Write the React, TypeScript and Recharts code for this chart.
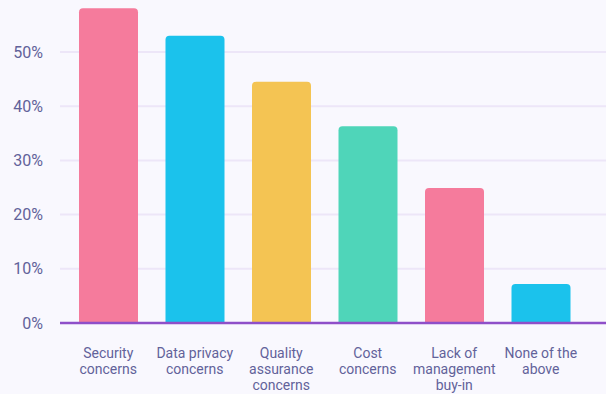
import React from 'react';
import { BarChart, Bar, XAxis, YAxis, CartesianGrid, Cell } from 'recharts';

const categories = [
  'Security\nconcerns',
  'Data privacy\nconcerns',
  'Quality\nassurance\nconcerns',
  'Cost\nconcerns',
  'Lack of\nmanagement\nbuy-in',
  'None of the\nabove',
];
const shares = [58.1, 53.0, 44.5, 36.3, 24.9, 7.2];
const yTicks = [0, 10, 20, 30, 40, 50];
const COLORS = ['#f57b9c', '#1bc2ec', '#f4c453', '#4fd5b9', '#f57b9c', '#1bc2ec'];

const data = categories.map((name, i) => ({ name, value: shares[i] }));

const TEXT = '#62629a';

const WrappedTick = (props: any) => {
  const { x, y, payload } = props;
  const lines: string[] = String(payload.value).split('\n');
  return (
    <g transform={`translate(${x},${y})`}>
      {lines.map((line, i) => (
        <text key={i} x={0} y={35 + i * 16} textAnchor="middle" fill={TEXT} fontSize={14} fontFamily="Roboto">
          {line}
        </text>
      ))}
    </g>
  );
};

export default function App() {
  return (
    <div style={{ position: 'fixed', left: 0, top: 0, width: 606, height: 394, background: '#f9f8fe' }}>
      <BarChart width={606} height={394} data={data} margin={{ top: 0, right: 0, bottom: 41, left: 0 }}>
        <CartesianGrid vertical={false} stroke="#ede6f8" strokeWidth={2} syncWithTicks />
        <XAxis
          dataKey="name"
          interval={0}
          height={30}
          padding={{ left: 5, right: 22 }}
          axisLine={{ stroke: '#8f4fc9', strokeWidth: 2.5 }}
          tickLine={false}
          tickSize={0}
          tickMargin={0}
          tick={<WrappedTick />}
        />
        <YAxis
          width={60}
          domain={[0, 59.6]}
          ticks={yTicks}
          tickFormatter={(v: number) => `${v}%`}
          axisLine={false}
          tickLine={false}
          tickSize={0}
          tickMargin={17}
          tick={{ fill: TEXT, fontSize: 16, fontFamily: 'Roboto' }}
        />
        <Bar dataKey="value" barSize={59} radius={[4, 4, 0, 0]} isAnimationActive={false}>
          {data.map((d, i) => (
            <Cell key={d.name} fill={COLORS[i % COLORS.length]} />
          ))}
        </Bar>
      </BarChart>
    </div>
  );
}
